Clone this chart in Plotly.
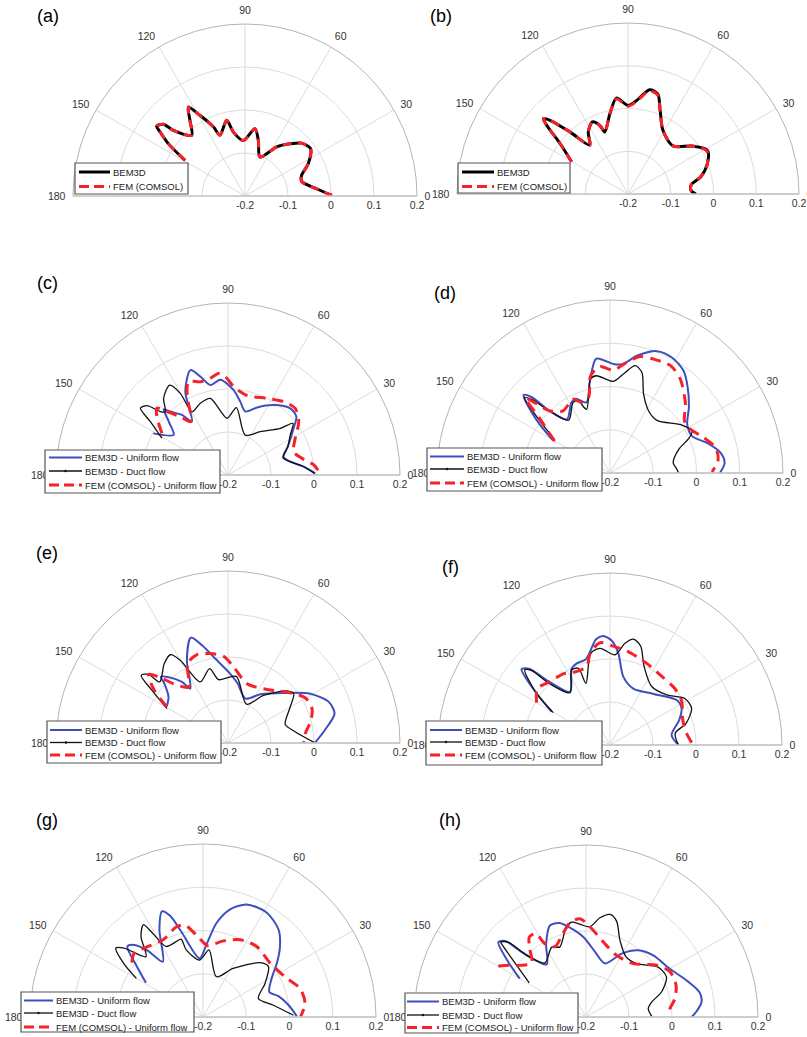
import plotly.graph_objects as go

W, H = 807, 1037
FONT = "Liberation Sans, Arial, sans-serif"

# ---------------- data (theta in degrees, r in axis units) ----------------
a_theta = [149.3, 145.7, 143.0, 141.7, 138.7, 137.5, 131.3, 126.0, 122.5, 119.2, 114.6, 112.4, 103.6, 100.3,
           91.7, 81.6, 76.5, 69.0, 57.1, 49.3, 43.1, 35.8, 27.0, 20.0, 14.5, 5.8, 0.4]
a_bem_r = [-0.038, 0.016, 0.047, 0.062, 0.053, 0.026, -0.012, 0.018, 0.045, 0.015, -0.023, -0.047, -0.019, -0.049,
           -0.071, -0.042, -0.067, -0.103, -0.064, -0.040, -0.020, -0.012, -0.035, -0.060, -0.064, -0.033, 0.002]
a_fem_r = [-0.038, 0.016, 0.047, 0.062, 0.053, 0.026, -0.012, 0.018, 0.045, 0.015, -0.023, -0.047, -0.019, -0.049,
           -0.071, -0.042, -0.067, -0.103, -0.064, -0.040, -0.020, -0.012, -0.035, -0.060, -0.064, -0.033, 0.002]

b_theta = [150.3, 143.4, 139.8, 138.3, 136.6, 133.1, 128.0, 122.7, 116.3, 112.3, 110.5, 102.8, 96.9, 90.0, 84.9,
           78.3, 73.4, 68.9, 61.3, 47.0, 36.6, 28.8, 21.0, 13.3, 8.1, 3.0, 0.0]
b_bem_r = [-0.048, -0.002, 0.049, 0.065, 0.051, -0.001, -0.055, -0.028, -0.012, -0.027, -0.045, -0.008, 0.026, 0.007,
           0.019, 0.049, 0.044, 0.009, -0.030, -0.046, -0.012, 0.012, -0.001, -0.025, -0.051, -0.052, -0.041]
b_fem_r = [-0.048, -0.002, 0.049, 0.065, 0.051, -0.001, -0.055, -0.028, -0.012, -0.027, -0.045, -0.008, 0.024, 0.005,
           0.017, 0.046, 0.042, 0.009, -0.030, -0.046, -0.012, 0.010, -0.001, -0.025, -0.051, -0.052, -0.041]

c_uni_theta = [150.9, 143.6, 138.0, 134.3, 132.8, 127.5, 124.0, 117.1, 109.7, 105.7, 101.1, 94.6, 86.2, 80.5, 74.7,
               66.7, 56.9, 46.9, 40.5, 35.4, 25.4, 18.2, 12.1, 6.3, 1.1]
c_uni_r = [-0.001, -0.043, -0.015, 0.014, 0.003, -0.024, -0.050, 0.018, 0.059, 0.038, 0.013, 0.022, -0.002, -0.027,
           -0.047, -0.029, -0.006, 0.012, 0.009, -0.013, -0.046, -0.064, -0.052, -0.023, 0.003]
c_duct_theta = [150.9, 145.5, 142.7, 139.4, 136.9, 134.7, 130.0, 123.0, 120.3, 119.6, 111.1, 103.0, 91.0, 82.9, 66.6,
                53.3, 41.7, 38.5, 32.7, 25.4, 17.5, 12.1, 6.2, 1.1]
c_duct_r = [-0.024, 0.019, 0.056, 0.048, 0.016, 0.007, 0.033, 0.049, 0.020, -0.031, -0.021, -0.017, -0.068, -0.042,
            -0.099, -0.074, -0.037, -0.007, -0.028, -0.046, -0.066, -0.052, -0.023, 0.001]
c_fem_theta = [147.7, 140.6, 136.8, 133.9, 129.3, 124.7, 117.1, 112.8, 106.5, 100.4, 95.2, 91.6, 86.3, 76.5, 63.0,
               52.8, 44.7, 37.0, 28.6, 19.6, 12.7, 6.7, 0.4]
c_fem_r = [-0.018, 0.014, 0.027, 0.005, -0.025, -0.049, 0.009, 0.036, 0.026, 0.029, 0.037, 0.029, 0.006, -0.010, 0.000,
           0.014, 0.020, 0.006, -0.022, -0.038, -0.024, 0.001, 0.015]

d_uni_theta = [150.3, 144.0, 137.9, 136.0, 134.2, 128.7, 118.7, 114.7, 108.4, 102.3, 97.0, 92.6, 88.2, 83.0, 77.1,
               68.9, 61.8, 54.2, 47.7, 39.7, 32.2, 24.2, 17.2, 10.3, 5.0, 0.0]
d_uni_r = [-0.048, 0.011, 0.069, 0.053, 0.000, -0.041, -0.014, -0.011, -0.028, 0.018, 0.066, 0.060, 0.052, 0.054,
           0.078, 0.102, 0.103, 0.091, 0.067, 0.037, 0.011, 0.008, 0.035, 0.060, 0.066, 0.054]
d_duct_theta = [148.8, 142.8, 138.6, 136.9, 134.2, 128.1, 117.6, 113.8, 110.2, 101.7, 97.9, 87.9, 82.3, 76.8, 72.4,
                66.9, 58.1, 48.3, 33.6, 27.0, 23.7, 18.9, 9.1, 3.8, 0.0]
d_duct_r = [-0.050, 0.009, 0.064, 0.050, 0.000, -0.045, -0.016, -0.018, -0.043, 0.022, 0.027, 0.012, 0.031, 0.055,
            0.044, -0.002, -0.031, -0.037, 0.000, 0.013, -0.001, -0.032, -0.052, -0.046, -0.041]
d_fem_theta = [150.1, 142.2, 138.5, 137.2, 134.2, 127.1, 116.6, 112.0, 105.9, 101.3, 95.4, 88.1, 82.2, 75.5, 69.1,
               60.6, 53.1, 42.3, 34.9, 28.4, 20.6, 13.4, 7.1, 0.6]
d_fem_r = [-0.052, 0.006, 0.061, 0.043, 0.000, -0.020, -0.009, -0.024, -0.019, 0.029, 0.047, 0.038, 0.056, 0.078,
           0.082, 0.085, 0.071, 0.036, 0.010, 0.012, 0.032, 0.051, 0.052, 0.036]

e_uni_theta = [149.0, 142.2, 137.0, 135.4, 132.0, 127.0, 124.7, 116.4, 109.4, 104.9, 98.5, 88.1, 80.7, 68.6, 56.4,
               41.9, 30.9, 22.2, 15.4, 7.8, 0.4]
e_uni_r = [-0.034, -0.025, 0.002, 0.019, 0.006, -0.022, -0.046, 0.015, 0.060, 0.035, -0.002, -0.039, -0.060, -0.089,
           -0.064, -0.026, 0.023, 0.053, 0.057, 0.028, 0.003]
e_duct_theta = [150.6, 145.3, 142.1, 139.1, 138.2, 128.7, 123.1, 120.0, 114.4, 103.9, 98.4, 82.9, 64.6, 53.2, 41.4,
                36.9, 29.1, 18.0, 9.3, 0.0]
e_duct_r = [-0.037, 0.015, 0.056, 0.044, 0.013, 0.037, 0.045, 0.022, -0.044, -0.022, -0.051, -0.044, -0.100, -0.062,
            -0.017, -0.009, -0.036, -0.060, -0.041, 0.003]
e_fem_theta = [149.5, 144.4, 139.1, 136.4, 132.5, 125.1, 117.0, 109.3, 101.2, 92.9, 85.7, 72.2, 53.8, 40.8, 30.4,
               22.2, 15.3, 6.9, 0.5]
e_fem_r = [-0.035, 0.011, 0.044, 0.023, -0.013, -0.041, 0.007, 0.018, 0.012, 0.002, -0.023, -0.055, -0.046, -0.019,
           0.008, 0.011, 0.000, -0.019, -0.024]

f_uni_theta = [150.3, 144.1, 139.4, 136.6, 134.3, 126.9, 116.6, 112.2, 105.7, 101.5, 97.5, 93.5, 89.1, 84.8, 79.0,
               67.6, 49.6, 34.0, 27.1, 19.8, 9.2, 0.0]
f_uni_r = [-0.044, 0.018, 0.071, 0.058, 0.011, -0.045, -0.001, 0.005, 0.007, 0.025, 0.048, 0.054, 0.043, 0.014,
           -0.038, -0.058, -0.044, -0.013, -0.013, -0.029, -0.055, -0.041]
f_duct_theta = [150.3, 144.7, 138.6, 136.5, 134.5, 127.4, 117.1, 112.4, 111.3, 101.9, 95.9, 86.8, 81.6, 77.5, 72.8,
                66.5, 54.5, 41.4, 31.9, 24.2, 15.9, 10.2, 0.0]
f_duct_r = [-0.048, 0.011, 0.064, 0.051, -0.001, -0.047, -0.004, -0.007, -0.046, 0.018, 0.026, 0.010, 0.039, 0.052,
            0.041, -0.001, -0.033, -0.024, 0.005, 0.008, -0.016, -0.046, -0.041]
f_fem_theta = [150.0, 142.0, 133.5, 123.3, 116.9, 106.6, 102.3, 95.6, 88.1, 77.8, 65.8, 53.2, 41.1, 31.2, 19.0, 8.7, 0.7]
f_fem_r = [-0.003, 0.014, 0.003, -0.002, -0.011, -0.010, 0.018, 0.039, 0.030, 0.020, 0.008, 0.000, 0.000, -0.005,
           -0.021, -0.020, -0.008]

g_uni_theta = [149.0, 142.5, 137.0, 133.6, 129.8, 126.0, 116.6, 111.2, 108.0, 104.3, 93.3, 87.3, 81.9, 76.0, 68.8,
               58.7, 49.1, 42.4, 36.0, 29.3, 20.7, 15.4, 7.8, 0.4]
g_uni_r = [-0.046, -0.007, 0.039, 0.030, 0.000, -0.042, 0.025, 0.062, 0.046, 0.004, -0.064, -0.033, 0.019, 0.056,
           0.079, 0.083, 0.067, 0.041, 0.011, -0.018, -0.036, -0.019, 0.000, 0.017]
g_duct_theta = [149.9, 146.1, 141.7, 138.9, 133.4, 127.6, 122.9, 121.0, 117.6, 109.6, 105.7, 104.0, 93.4, 84.9, 71.6,
                58.2, 43.6, 37.6, 28.4, 18.4, 9.5, 1.1]
g_duct_r = [-0.022, 0.020, 0.057, 0.042, -0.008, 0.035, 0.054, 0.026, -0.016, -0.015, -0.013, -0.040, -0.068, -0.044,
            -0.102, -0.068, -0.018, -0.009, -0.037, -0.065, -0.035, 0.009]
g_fem_theta = [142.6, 137.2, 129.3, 117.5, 106.6, 101.3, 93.6, 86.0, 76.3, 64.4, 52.7, 38.7, 26.1, 16.3, 7.5, 0.4]
g_fem_r = [0.007, 0.017, 0.008, 0.001, 0.017, 0.017, -0.014, -0.035, -0.020, -0.002, 0.005, -0.001, 0.011, 0.034,
           0.038, 0.026]

h_uni_theta = [149.9, 144.2, 139.5, 136.8, 134.7, 126.8, 118.6, 111.4, 105.8, 100.2, 91.9, 82.1, 70.4, 60.6, 51.9,
               42.5, 29.9, 18.9, 12.4, 7.4, 3.1, 0.0]
h_uni_r = [-0.022, 0.026, 0.068, 0.058, 0.013, -0.047, -0.006, 0.029, 0.027, 0.011, -0.014, -0.047, -0.068, -0.031,
           -0.003, 0.012, 0.025, 0.052, 0.070, 0.071, 0.058, 0.046]
h_duct_theta = [149.0, 143.3, 139.5, 138.7, 136.0, 133.9, 127.2, 116.1, 110.4, 102.5, 98.6, 93.7, 87.5, 82.0, 76.8,
                72.3, 66.1, 56.3, 46.5, 34.7, 26.4, 18.3, 12.9, 7.6, 0.6]
h_duct_r = [-0.046, 0.001, 0.053, 0.064, 0.051, -0.001, -0.042, -0.019, -0.026, 0.014, 0.023, 0.016, 0.010, 0.033,
            0.045, 0.034, -0.005, -0.032, -0.029, 0.004, 0.009, -0.015, -0.043, -0.054, -0.047]
h_fem_theta = [149.8, 146.0, 142.0, 135.2, 129.0, 125.3, 121.0, 119.2, 113.7, 105.6, 99.7, 93.5, 87.5, 77.0, 63.6,
               48.4, 36.2, 28.2, 19.4, 11.6, 5.7, 0.5]
h_fem_r = [0.036, 0.015, -0.005, -0.022, 0.009, 0.028, 0.026, -0.005, -0.021, 0.001, 0.022, 0.029, 0.010, -0.021,
           -0.040, -0.034, 0.004, 0.022, 0.022, 0.011, -0.004, -0.009]

angle_ticks = [0, 30, 60, 90, 120, 150, 180]
radial_ticks = [-0.2, -0.1, 0, 0.1, 0.2]
radial_labels = ["-0.2", "-0.1", "0", "0.1", "0.2"]
legend_two = ["BEM3D", "FEM (COMSOL)"]
legend_three = ["BEM3D - Uniform flow", "BEM3D - Duct flow", "FEM (COMSOL) - Uniform flow"]
panel_labels = ["(a)", "(b)", "(c)", "(d)", "(e)", "(f)", "(g)", "(h)"]

# ---------------- styles ----------------
BLUE = "#3d4fbf"
RED = "#f5222a"
STY = {
    "bem": dict(color="black", width=3),
    "fem2": dict(color=RED, width=3, dash="9px,6px"),
    "uni": dict(color=BLUE, width=2),
    "duct": dict(color="#111111", width=1.3),
    "fem": dict(color=RED, width=3, dash="11px,7px"),
}

# ---------------- panel layout (pixels) ----------------
panels = [
    dict(c=(245, 196), R=172, lab=(48, 16), box=(75, 163, 188, 194), rows=[172, 186.5], lx=(79, 110),
         series=[(a_theta, a_bem_r, "bem"), (a_theta, a_fem_r, "fem2")], names=legend_two),
    dict(c=(628, 194), R=171, lab=(441, 16), box=(458, 163, 570, 193), rows=[172, 186.5], lx=(462, 494),
         series=[(b_theta, b_bem_r, "bem"), (b_theta, b_fem_r, "fem2")], names=legend_two),
    dict(c=(228, 475), R=172, lab=(47, 283), box=(45, 450, 220, 493), rows=[457.5, 471, 485], lx=(49, 82),
         series=[(c_uni_theta, c_uni_r, "uni"), (c_duct_theta, c_duct_r, "duct"), (c_fem_theta, c_fem_r, "fem")],
         names=legend_three),
    dict(c=(610, 473), R=173, lab=(445, 293), box=(427, 448, 602, 491), rows=[456.5, 469, 483], lx=(430, 464),
         series=[(d_uni_theta, d_uni_r, "uni"), (d_duct_theta, d_duct_r, "duct"), (d_fem_theta, d_fem_r, "fem")],
         names=legend_three),
    dict(c=(228, 743), R=172, lab=(47, 553), box=(47, 721, 221, 763), rows=[730, 742.5, 755], lx=(50, 82),
         series=[(e_uni_theta, e_uni_r, "uni"), (e_duct_theta, e_duct_r, "duct"), (e_fem_theta, e_fem_r, "fem")],
         names=legend_three),
    dict(c=(610, 745), R=172, lab=(450, 567), box=(426, 721, 602, 765), rows=[730, 742, 755], lx=(430, 462),
         series=[(f_uni_theta, f_uni_r, "uni"), (f_duct_theta, f_duct_r, "duct"), (f_fem_theta, f_fem_r, "fem")],
         names=legend_three),
    dict(c=(203, 1017), R=173, lab=(47, 820), box=(21, 992, 194, 1032), rows=[1000.5, 1013, 1027], lx=(24, 53),
         series=[(g_uni_theta, g_uni_r, "uni"), (g_duct_theta, g_duct_r, "duct"), (g_fem_theta, g_fem_r, "fem")],
         names=legend_three),
    dict(c=(586, 1017), R=172, lab=(450, 820), box=(405, 993, 578, 1033), rows=[1001.5, 1015, 1027.5], lx=(407, 439),
         series=[(h_uni_theta, h_uni_r, "uni"), (h_duct_theta, h_duct_r, "duct"), (h_fem_theta, h_fem_r, "fem")],
         names=legend_three),
]


def fx(x):
    return x / W


def fy(y):
    return 1 - y / H


fig = go.Figure()
layout = dict(width=W, height=H, margin=dict(l=0, r=0, t=0, b=0), paper_bgcolor="white",
              showlegend=False, font=dict(family=FONT, color="#333333"))
shapes, annotations = [], []

for i, p in enumerate(panels):
    key = "polar" if i == 0 else f"polar{i + 1}"
    sub = "polar" if i == 0 else f"polar{i + 1}"
    cx, cy = p["c"]
    R = p["R"]
    layout[key] = dict(
        domain=dict(x=[fx(cx - R), fx(cx + R)], y=[fy(cy), fy(cy - R)]),
        sector=[0, 180],
        bgcolor="white",
        radialaxis=dict(range=[-0.2, 0.2], tickvals=radial_ticks, ticktext=radial_labels, angle=0,
                        side="clockwise", showline=True, linecolor="#c8c8c8", linewidth=1,
                        gridcolor="#dcdcdc", gridwidth=1, ticks="", tickfont=dict(size=10.5, color="#333333")),
        angularaxis=dict(tickvals=angle_ticks, ticktext=[str(t) for t in angle_ticks], direction="counterclockwise",
                         rotation=0, showline=True, linecolor="#b4b4b4", linewidth=1, gridcolor="#dcdcdc",
                         gridwidth=1, ticks="outside", ticklen=5, tickcolor="rgba(0,0,0,0)",
                         tickfont=dict(size=10.5, color="#333333")),
    )
    for th, rr, st in p["series"]:
        fig.add_trace(go.Scatterpolar(theta=th, r=rr, mode="lines", subplot=sub,
                                      line=dict(shape="spline", smoothing=0.8, **STY[st]),
                                      hoverinfo="skip"))
    # panel label
    lx, ly = p["lab"]
    annotations.append(dict(x=fx(lx), y=fy(ly), xref="paper", yref="paper", text=panel_labels[i],
                            showarrow=False, font=dict(size=18, color="black", family=FONT),
                            xanchor="center", yanchor="middle"))
    # legend box
    x0, y0, x1, y1 = p["box"]
    shapes.append(dict(type="rect", xref="paper", yref="paper", x0=fx(x0), x1=fx(x1), y0=fy(y1), y1=fy(y0),
                       fillcolor="white", line=dict(color="#555555", width=1.2), layer="above"))
    styles = [s[2] for s in p["series"]]
    for row, st, name in zip(p["rows"], styles, p["names"]):
        lstyle = dict(STY[st])
        if st in ("fem", "fem2"):
            lstyle["dash"] = "10px,5px"
        shapes.append(dict(type="line", xref="paper", yref="paper", x0=fx(p["lx"][0]), x1=fx(p["lx"][1]),
                           y0=fy(row), y1=fy(row), line=lstyle, layer="above"))
        if st == "duct":
            mx = (p["lx"][0] + p["lx"][1]) / 2
            shapes.append(dict(type="circle", xref="paper", yref="paper", x0=fx(mx - 1.2), x1=fx(mx + 1.2),
                               y0=fy(row + 1.2), y1=fy(row - 1.2), fillcolor="#111111",
                               line=dict(width=0), layer="above"))
        annotations.append(dict(x=fx(p["lx"][1] + 1), y=fy(row), xref="paper", yref="paper", text=name,
                                showarrow=False, xanchor="left", yanchor="middle",
                                font=dict(size=9.5, color="#222222", family=FONT)))

layout["shapes"] = shapes
layout["annotations"] = annotations
fig.update_layout(**layout)
fig.write_html("out.html")
